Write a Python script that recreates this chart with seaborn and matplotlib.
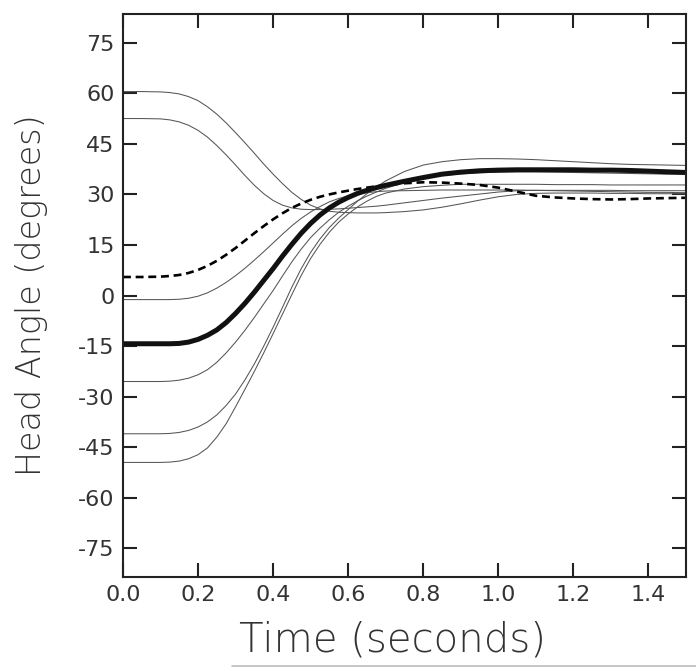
import numpy as np
import pandas as pd
import seaborn as sns
import matplotlib
matplotlib.use("Agg")
import matplotlib.pyplot as plt
from matplotlib.lines import Line2D

# ---- data ----
time_s = [0.00, 0.05,
          0.100, 0.125, 0.150, 0.175, 0.200, 0.225, 0.250, 0.275, 0.300,
          0.325, 0.350, 0.375, 0.400, 0.425, 0.450, 0.475, 0.500, 0.525,
          0.550, 0.575, 0.600, 0.625, 0.650, 0.675, 0.700,
          0.75, 0.80, 0.85, 0.90, 0.95, 1.00, 1.05, 1.10, 1.15, 1.20,
          1.25, 1.30, 1.35, 1.40, 1.45, 1.50]

trial_a = [60.5, 60.5,
           60.4, 60.2, 59.8, 59.0, 57.8, 56.0, 53.8, 51.2, 48.3,
           45.3, 42.2, 39.0, 36.0, 33.2, 30.6, 28.5, 26.8, 25.7,
           25.0, 24.7, 24.6, 24.5, 24.5, 24.5, 24.6,
           24.9, 25.4, 26.2, 27.2, 28.3, 29.3, 30.0, 30.3, 30.4, 30.4,
           30.4, 30.3, 30.3, 30.2, 30.2, 30.2]
trial_b = [52.5, 52.5,
           52.4, 52.1, 51.5, 50.5, 49.0, 47.0, 44.5, 41.7, 38.7,
           35.6, 32.7, 30.2, 28.2, 26.8, 26.0, 25.6, 25.5, 25.5,
           25.6, 25.7, 25.9, 26.1, 26.3, 26.5, 26.8,
           27.5, 28.2, 28.9, 29.5, 30.1, 30.7, 31.1, 31.2, 31.2, 31.2,
           31.2, 31.2, 31.1, 31.1, 31.1, 31.1]
trial_c = [-1.2, -1.2,
           -1.2, -1.2, -1.1, -0.8, -0.2, 0.8, 2.2, 3.9, 5.9,
           8.1, 10.5, 13.0, 15.6, 18.2, 20.7, 22.9, 24.8, 26.4,
           27.8, 28.8, 29.6, 30.1, 30.5, 30.8, 31.0,
           31.1, 31.2, 31.3, 31.3, 31.3, 31.3, 31.3, 31.2, 31.1, 31.0,
           30.9, 30.8, 30.7, 30.6, 30.6, 30.5]
trial_d = [-25.5, -25.5,
           -25.5, -25.4, -25.1, -24.5, -23.5, -22.0, -19.8, -17.0, -13.8,
           -10.3, -6.5, -2.5, 1.5, 5.8, 10.0, 13.8, 17.2, 20.0,
           22.5, 24.7, 26.5, 28.1, 29.5, 30.7, 31.8,
           33.5, 34.8, 35.6, 36.1, 36.4, 36.6, 36.7, 36.7, 36.6, 36.5,
           36.4, 36.3, 36.2, 36.1, 36.0, 36.0]
trial_e = [-41.0, -41.0,
           -41.0, -40.9, -40.6, -40.0, -39.0, -37.5, -35.4, -32.6, -29.2,
           -25.0, -20.3, -15.0, -9.4, -3.5, 2.5, 8.0, 12.8, 16.8,
           20.2, 23.0, 25.5, 28.0, 30.2, 32.2, 34.0,
           36.8, 38.7, 39.7, 40.3, 40.6, 40.6, 40.5, 40.3, 40.0, 39.7,
           39.4, 39.1, 38.9, 38.8, 38.7, 38.6]
trial_f = [-49.5, -49.5,
           -49.5, -49.4, -49.1, -48.4, -47.2, -45.2, -42.0, -38.0, -33.0,
           -27.8, -22.5, -17.0, -11.3, -5.5, 0.3, 6.0, 11.0, 15.2,
           18.8, 21.8, 24.2, 26.3, 28.0, 29.4, 30.4,
           31.6, 32.3, 32.7, 33.0, 33.0, 33.0, 33.0, 33.0, 32.9, 32.9,
           32.9, 32.8, 32.8, 32.8, 32.8, 32.8]
mean_curve = [-14.3, -14.3,
              -14.3, -14.3, -14.2, -13.8, -13.0, -11.8, -10.2, -8.0, -5.3,
              -2.3, 1.0, 4.5, 8.0, 11.7, 15.2, 18.5, 21.4, 23.9,
              26.0, 27.7, 29.1, 30.3, 31.2, 32.0, 32.7,
              33.9, 35.0, 36.0, 36.6, 37.0, 37.2, 37.3, 37.3, 37.3, 37.3,
              37.2, 37.2, 37.1, 36.9, 36.7, 36.5]
dashed_curve = [5.5, 5.5,
                5.6, 5.8, 6.1, 6.7, 7.6, 8.8, 10.3, 12.1, 14.1,
                16.3, 18.5, 20.6, 22.6, 24.4, 26.0, 27.3, 28.4, 29.3,
                30.0, 30.6, 31.1, 31.6, 32.0, 32.4, 32.8,
                33.3, 33.6, 33.5, 33.2, 32.8, 32.0, 30.8, 29.6, 29.1, 28.8,
                28.6, 28.5, 28.6, 28.8, 28.9, 29.0]

thin_trials = {"a": trial_a, "b": trial_b, "c": trial_c,
               "d": trial_d, "e": trial_e, "f": trial_f}

x_ticks = [0.0, 0.2, 0.4, 0.6, 0.8, 1.0, 1.2, 1.4]
y_ticks = [-75, -60, -45, -30, -15, 0, 15, 30, 45, 60, 75]

# ---- long-form frames ----
rows = []
for name, vals in thin_trials.items():
    for t, v in zip(time_s, vals):
        rows.append({"time": t, "angle": v, "trial": name})
thin_df = pd.DataFrame(rows)
mean_df = pd.DataFrame({"time": time_s, "angle": mean_curve})
dash_df = pd.DataFrame({"time": time_s, "angle": dashed_curve})

sns.set_style("ticks")
plt.rcParams["font.family"] = ["DejaVu Sans"]

fig = plt.figure(figsize=(6.96, 6.71), dpi=100)
ax = fig.add_axes([0.1767, 0.140, 0.8089, 0.8391])

sns.lineplot(data=thin_df, x="time", y="angle", units="trial", estimator=None,
             color="#555555", linewidth=0.75, ax=ax, legend=False)
sns.lineplot(data=dash_df, x="time", y="angle", color="black", linewidth=1.9,
             ax=ax, legend=False, linestyle=(0, (3.0, 1.8)))
sns.lineplot(data=mean_df, x="time", y="angle", color="#111111", linewidth=3.6,
             ax=ax, legend=False)

ax.set_xlim(0, 1.5)
ax.set_ylim(-83.5, 83.5)
ax.set_xticks(x_ticks)
ax.set_xticklabels([f"{v:.1f}" for v in x_ticks])
ax.set_yticks(y_ticks)
ax.set_yticklabels([str(v) for v in y_ticks])

ax.tick_params(direction="in", length=10, width=1.5, top=True, right=True,
               labelsize=16, colors="#222222", labelcolor="#333333", pad=6)
for s in ax.spines.values():
    s.set_linewidth(1.5)
    s.set_color("#222222")
    s.set_visible(True)

ax.set_xlabel("Time (seconds)", fontsize=29, color="#333333",
              fontweight="light")
ax.xaxis.set_label_coords(0.478, -0.078)
ax.set_ylabel("Head Angle (degrees)", fontsize=24, color="#333333",
              fontweight="light")
ax.yaxis.set_label_coords(-0.133, 0.5)

fig.add_artist(Line2D([232 / 696, 1.0], [1 - 666 / 671, 1 - 666 / 671],
                      color="#bbbbbb", linewidth=1.2))

fig.savefig("out.png", dpi=100)
